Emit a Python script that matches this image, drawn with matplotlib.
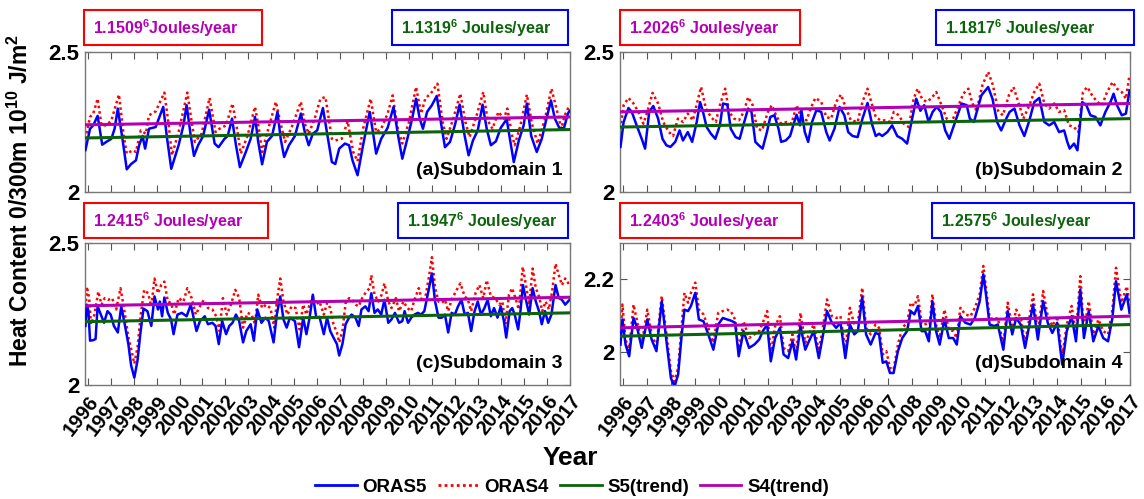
import numpy as np
import matplotlib
matplotlib.use("Agg")
import matplotlib.pyplot as plt
from matplotlib.patches import Rectangle
from matplotlib.lines import Line2D

plt.rcParams['font.family'] = ['Liberation Sans', 'DejaVu Sans']
plt.rcParams['font.weight'] = 'bold'
plt.rcParams['mathtext.fontset'] = 'custom'
plt.rcParams['mathtext.rm'] = 'Liberation Sans:bold'
plt.rcParams['mathtext.bf'] = 'Liberation Sans:bold'
plt.rcParams['mathtext.it'] = 'Liberation Sans:bold'

# ---- data (decimal year, 10^10 J/m^2) ----
# Subdomain 1
t5_a = [1995.9, 1996.10, 1996.24, 1996.43, 1996.63, 1996.81, 1997.03, 1997.17, 1997.31, 1997.53, 1997.70, 1997.89,
        1998.10, 1998.24, 1998.39, 1998.50, 1998.67, 1998.96, 1999.29, 1999.46, 1999.64, 1999.96, 2000.17, 2000.31,
        2000.49, 2000.63, 2000.81, 2001.03, 2001.29, 2001.53, 2001.70, 2001.96, 2002.10, 2002.29, 2002.46, 2002.63,
        2002.89, 2003.10, 2003.29, 2003.43, 2003.60, 2003.81, 2004.03, 2004.27, 2004.41, 2004.56, 2004.77, 2005.03,
        2005.29, 2005.46, 2005.63, 2005.81, 2006.00, 2006.25, 2006.64, 2006.79, 2006.96, 2007.21, 2007.39, 2007.54,
        2007.76, 2008.00, 2008.29, 2008.43, 2008.57, 2008.79, 2009.07, 2009.33, 2009.53, 2009.71, 2009.93, 2010.14,
        2010.31, 2010.47, 2010.61, 2010.79, 2011.00, 2011.21, 2011.39, 2011.57, 2011.79, 2012.00, 2012.21, 2012.43,
        2012.60, 2012.79, 2013.00, 2013.21, 2013.39, 2013.57, 2013.79, 2014.00, 2014.26, 2014.40, 2014.57, 2014.79,
        2015.00, 2015.14, 2015.33, 2015.57, 2015.79, 2015.96, 2016.19, 2016.36, 2016.57, 2016.76, 2016.93, 2017.0]
s5_a = [2.150, 2.226, 2.238, 2.272, 2.169, 2.179, 2.190, 2.226, 2.298, 2.180, 2.081, 2.100,
        2.113, 2.167, 2.200, 2.155, 2.226, 2.232, 2.304, 2.190, 2.083, 2.167, 2.238, 2.310,
        2.200, 2.129, 2.167, 2.200, 2.294, 2.173, 2.160, 2.190, 2.200, 2.262, 2.167, 2.089,
        2.143, 2.190, 2.268, 2.179, 2.099, 2.179, 2.200, 2.286, 2.190, 2.125, 2.167, 2.200,
        2.280, 2.214, 2.167, 2.208, 2.220, 2.300, 2.107, 2.100, 2.155, 2.173, 2.167, 2.113,
        2.060, 2.167, 2.286, 2.214, 2.137, 2.190, 2.229, 2.304, 2.200, 2.119, 2.190, 2.262,
        2.333, 2.262, 2.226, 2.286, 2.310, 2.343, 2.250, 2.160, 2.179, 2.238, 2.312, 2.200,
        2.131, 2.184, 2.220, 2.312, 2.226, 2.167, 2.181, 2.229, 2.260, 2.190, 2.107, 2.184,
        2.238, 2.316, 2.200, 2.143, 2.190, 2.250, 2.327, 2.262, 2.226, 2.229, 2.280, 2.290]
t4_a = [1995.9, 1996.10, 1996.24, 1996.43, 1996.60, 1996.81, 1997.03, 1997.36, 1997.57, 1997.70, 1997.96, 1998.10,
        1998.31, 1998.53, 1998.67, 1998.96, 1999.34, 1999.53, 1999.67, 1999.96, 2000.34, 2000.53, 2000.67, 2000.96,
        2001.31, 2001.57, 2001.74, 2002.03, 2002.31, 2002.53, 2002.67, 2002.96, 2003.29, 2003.46, 2003.60, 2003.89,
        2004.20, 2004.39, 2004.60, 2004.89, 2005.29, 2005.46, 2005.63, 2005.89, 2006.14, 2006.36, 2006.64, 2006.79,
        2007.07, 2007.33, 2007.57, 2007.76, 2008.00, 2008.33, 2008.57, 2008.79, 2009.07, 2009.29, 2009.50, 2009.71,
        2010.00, 2010.31, 2010.53, 2010.71, 2011.00, 2011.24, 2011.47, 2011.64, 2011.93, 2012.24, 2012.46, 2012.64,
        2012.93, 2013.24, 2013.43, 2013.64, 2013.90, 2014.14, 2014.29, 2014.50, 2014.61, 2014.86, 2015.14, 2015.36,
        2015.61, 2015.93, 2016.21, 2016.43, 2016.64, 2016.79, 2017.0]
s4_a = [2.190, 2.268, 2.280, 2.333, 2.238, 2.238, 2.256, 2.348, 2.200, 2.137, 2.149, 2.143,
        2.220, 2.208, 2.274, 2.288, 2.355, 2.238, 2.131, 2.214, 2.355, 2.250, 2.179, 2.208,
        2.336, 2.214, 2.226, 2.238, 2.316, 2.214, 2.137, 2.200, 2.304, 2.226, 2.143, 2.232,
        2.322, 2.250, 2.179, 2.232, 2.322, 2.244, 2.208, 2.262, 2.333, 2.339, 2.190, 2.184,
        2.190, 2.252, 2.143, 2.110, 2.226, 2.333, 2.214, 2.226, 2.280, 2.345, 2.232, 2.173,
        2.250, 2.375, 2.280, 2.333, 2.357, 2.387, 2.250, 2.190, 2.262, 2.351, 2.250, 2.196,
        2.268, 2.357, 2.256, 2.226, 2.286, 2.262, 2.298, 2.200, 2.167, 2.238, 2.348, 2.244,
        2.173, 2.262, 2.369, 2.298, 2.226, 2.274, 2.310]
tr5_a = [2.193, 2.223]
tr4_a = [2.240, 2.268]

# Subdomain 2
t5_b = [1995.9, 1996.03, 1996.23, 1996.37, 1996.57, 1996.78, 1996.92, 1997.09, 1997.26, 1997.46, 1997.64, 1997.80,
        1997.97, 1998.17, 1998.35, 1998.49, 1998.69, 1998.87, 1999.06, 1999.20, 1999.31, 1999.47, 1999.65, 1999.83,
        2000.02, 2000.15, 2000.33, 2000.47, 2000.67, 2000.84, 2001.01, 2001.19, 2001.33, 2001.49, 2001.63, 2001.79,
        2001.97, 2002.11, 2002.28, 2002.45, 2002.56, 2002.75, 2002.93, 2003.06, 2003.20, 2003.34, 2003.40, 2003.54,
        2003.68, 2003.84, 2004.02, 2004.22, 2004.43, 2004.57, 2004.77, 2004.98, 2005.18, 2005.34, 2005.52, 2005.73,
        2005.93, 2006.14, 2006.34, 2006.48, 2006.62, 2006.75, 2006.96, 2007.16, 2007.37, 2007.58, 2007.78, 2007.99,
        2008.16, 2008.33, 2008.49, 2008.67, 2008.84, 2009.01, 2009.18, 2009.36, 2009.53, 2009.77, 2010.04, 2010.25,
        2010.38, 2010.55, 2010.86, 2011.14, 2011.32, 2011.51, 2011.68, 2011.89, 2012.03, 2012.23, 2012.44, 2012.64,
        2012.85, 2013.05, 2013.26, 2013.47, 2013.67, 2013.88, 2014.08, 2014.29, 2014.42, 2014.52, 2014.70, 2014.84,
        2015.04, 2015.21, 2015.38, 2015.59, 2015.79, 2016.00, 2016.21, 2016.34, 2016.48, 2016.68, 2016.85, 2017.0]
s5_b = [2.161, 2.250, 2.300, 2.286, 2.238, 2.190, 2.155, 2.286, 2.307, 2.262, 2.190, 2.167,
        2.161, 2.179, 2.220, 2.184, 2.214, 2.179, 2.250, 2.321, 2.290, 2.232, 2.208, 2.190,
        2.238, 2.316, 2.312, 2.226, 2.196, 2.190, 2.244, 2.298, 2.286, 2.179, 2.167, 2.155,
        2.214, 2.268, 2.274, 2.226, 2.179, 2.184, 2.200, 2.238, 2.276, 2.238, 2.292, 2.214,
        2.179, 2.250, 2.292, 2.286, 2.214, 2.184, 2.226, 2.304, 2.274, 2.214, 2.200, 2.196,
        2.262, 2.318, 2.238, 2.200, 2.208, 2.200, 2.214, 2.238, 2.200, 2.190, 2.173, 2.262,
        2.333, 2.290, 2.310, 2.250, 2.286, 2.304, 2.286, 2.220, 2.190, 2.250, 2.316, 2.310,
        2.262, 2.250, 2.345, 2.375, 2.333, 2.250, 2.220, 2.262, 2.286, 2.298, 2.238, 2.200,
        2.256, 2.321, 2.336, 2.250, 2.238, 2.250, 2.214, 2.220, 2.179, 2.155, 2.173, 2.149,
        2.321, 2.310, 2.274, 2.268, 2.238, 2.286, 2.321, 2.351, 2.310, 2.274, 2.280, 2.363]
t4_b = [1995.9, 1996.03, 1996.23, 1996.44, 1996.64, 1996.85, 1997.01, 1997.23, 1997.46, 1997.67, 1997.91, 1998.08,
        1998.28, 1998.49, 1998.69, 1998.90, 1999.10, 1999.24, 1999.44, 1999.65, 1999.85, 2000.02, 2000.24, 2000.40,
        2000.61, 2000.81, 2001.01, 2001.19, 2001.38, 2001.56, 2001.77, 2002.01, 2002.17, 2002.38, 2002.56, 2002.79,
        2002.99, 2003.20, 2003.38, 2003.61, 2003.81, 2003.98, 2004.22, 2004.43, 2004.63, 2004.84, 2005.04, 2005.25,
        2005.45, 2005.73, 2005.93, 2006.14, 2006.30, 2006.48, 2006.68, 2006.89, 2007.10, 2007.23, 2007.44, 2007.64,
        2007.85, 2008.05, 2008.22, 2008.40, 2008.58, 2008.77, 2008.99, 2009.18, 2009.42, 2009.63, 2009.86, 2010.11,
        2010.32, 2010.49, 2010.66, 2010.90, 2011.14, 2011.34, 2011.55, 2011.75, 2012.00, 2012.19, 2012.41, 2012.60,
        2012.85, 2013.05, 2013.26, 2013.47, 2013.67, 2013.88, 2014.08, 2014.29, 2014.49, 2014.70, 2014.88, 2015.07,
        2015.25, 2015.45, 2015.66, 2015.86, 2016.07, 2016.30, 2016.48, 2016.68, 2016.85, 2017.0]
s4_b = [2.226, 2.310, 2.336, 2.316, 2.286, 2.244, 2.286, 2.354, 2.316, 2.250, 2.214, 2.200,
        2.262, 2.250, 2.280, 2.256, 2.327, 2.375, 2.298, 2.268, 2.250, 2.310, 2.369, 2.286,
        2.262, 2.256, 2.286, 2.339, 2.310, 2.226, 2.220, 2.286, 2.310, 2.268, 2.244, 2.250,
        2.244, 2.310, 2.268, 2.256, 2.304, 2.336, 2.322, 2.268, 2.262, 2.322, 2.348, 2.298,
        2.256, 2.250, 2.322, 2.369, 2.320, 2.268, 2.256, 2.256, 2.250, 2.286, 2.274, 2.244,
        2.232, 2.333, 2.369, 2.333, 2.322, 2.333, 2.357, 2.316, 2.262, 2.250, 2.298, 2.351,
        2.369, 2.316, 2.290, 2.381, 2.429, 2.381, 2.290, 2.274, 2.345, 2.375, 2.316, 2.262,
        2.310, 2.357, 2.387, 2.316, 2.298, 2.316, 2.286, 2.292, 2.238, 2.232, 2.214, 2.357,
        2.375, 2.345, 2.322, 2.310, 2.357, 2.393, 2.369, 2.357, 2.333, 2.417]
tr5_b = [2.232, 2.262]
tr4_b = [2.286, 2.316]

# Subdomain 3
t5_c = [1995.9, 1995.96, 1996.03, 1996.10, 1996.24, 1996.34, 1996.43, 1996.57, 1996.71, 1996.86, 1997.00, 1997.14,
        1997.31, 1997.46, 1997.60, 1997.77, 1997.89, 1998.03, 1998.17, 1998.29, 1998.43, 1998.60, 1998.77, 1998.91,
        1999.06, 1999.14, 1999.24, 1999.34, 1999.49, 1999.63, 1999.74, 1999.91, 2000.10, 2000.31, 2000.49, 2000.60,
        2000.74, 2000.89, 2001.10, 2001.24, 2001.43, 2001.57, 2001.71, 2001.86, 2002.03, 2002.17, 2002.31, 2002.46,
        2002.60, 2002.77, 2002.91, 2003.10, 2003.24, 2003.39, 2003.57, 2003.74, 2003.89, 2004.10, 2004.24, 2004.39,
        2004.53, 2004.67, 2004.81, 2005.03, 2005.21, 2005.39, 2005.53, 2005.67, 2005.81, 2005.96, 2006.10, 2006.29,
        2006.43, 2006.57, 2006.71, 2006.86, 2006.96, 2007.10, 2007.24, 2007.39, 2007.50, 2007.67, 2007.81, 2007.93,
        2008.10, 2008.24, 2008.36, 2008.50, 2008.64, 2008.79, 2008.93, 2009.10, 2009.24, 2009.39, 2009.57, 2009.71,
        2009.81, 2009.96, 2010.10, 2010.24, 2010.39, 2010.53, 2010.67, 2010.86, 2011.00, 2011.14, 2011.29, 2011.43,
        2011.57, 2011.71, 2011.86, 2012.00, 2012.14, 2012.29, 2012.43, 2012.57, 2012.71, 2012.86, 2013.00, 2013.14,
        2013.29, 2013.43, 2013.57, 2013.71, 2013.86, 2014.00, 2014.14, 2014.24, 2014.39, 2014.50, 2014.61, 2014.76,
        2014.86, 2014.97, 2015.10, 2015.24, 2015.39, 2015.53, 2015.67, 2015.79, 2015.93, 2016.07, 2016.21, 2016.39,
        2016.53, 2016.67, 2016.81, 2017.0]
s5_c = [2.208, 2.283, 2.260, 2.156, 2.158, 2.162, 2.277, 2.248, 2.219, 2.260, 2.248, 2.208,
        2.185, 2.277, 2.219, 2.144, 2.069, 2.026, 2.087, 2.179, 2.269, 2.260, 2.208, 2.312,
        2.266, 2.294, 2.242, 2.308, 2.254, 2.231, 2.179, 2.248, 2.254, 2.242, 2.283, 2.242,
        2.190, 2.225, 2.242, 2.214, 2.219, 2.208, 2.144, 2.225, 2.179, 2.208, 2.219, 2.248,
        2.225, 2.150, 2.190, 2.214, 2.156, 2.266, 2.219, 2.237, 2.225, 2.150, 2.248, 2.312,
        2.231, 2.202, 2.237, 2.225, 2.133, 2.237, 2.179, 2.237, 2.318, 2.237, 2.240, 2.179,
        2.237, 2.190, 2.167, 2.144, 2.104, 2.144, 2.214, 2.237, 2.248, 2.237, 2.208, 2.266,
        2.277, 2.260, 2.323, 2.254, 2.266, 2.248, 2.300, 2.219, 2.231, 2.254, 2.219, 2.225,
        2.260, 2.219, 2.237, 2.248, 2.254, 2.248, 2.260, 2.335, 2.393, 2.294, 2.237, 2.237,
        2.248, 2.185, 2.254, 2.248, 2.277, 2.300, 2.248, 2.254, 2.190, 2.260, 2.294, 2.248,
        2.271, 2.300, 2.242, 2.271, 2.237, 2.277, 2.225, 2.167, 2.260, 2.271, 2.248, 2.196,
        2.260, 2.352, 2.300, 2.248, 2.341, 2.294, 2.260, 2.214, 2.260, 2.219, 2.248, 2.352,
        2.306, 2.300, 2.283, 2.300]
t4_c = [1995.9, 1995.96, 1996.06, 1996.14, 1996.29, 1996.46, 1996.60, 1996.74, 1996.89, 1997.06, 1997.24, 1997.43,
        1997.60, 1997.77, 1997.91, 1998.03, 1998.17, 1998.31, 1998.46, 1998.63, 1998.77, 1998.91, 1999.06, 1999.20,
        1999.34, 1999.49, 1999.63, 1999.77, 1999.96, 2000.17, 2000.34, 2000.53, 2000.71, 2000.89, 2001.06, 2001.24,
        2001.43, 2001.60, 2001.74, 2001.89, 2002.06, 2002.24, 2002.43, 2002.60, 2002.77, 2002.96, 2003.14, 2003.29,
        2003.43, 2003.60, 2003.77, 2003.96, 2004.13, 2004.24, 2004.39, 2004.53, 2004.70, 2004.89, 2005.06, 2005.23,
        2005.39, 2005.53, 2005.67, 2005.81, 2005.96, 2006.10, 2006.29, 2006.43, 2006.57, 2006.71, 2006.86, 2006.96,
        2007.10, 2007.24, 2007.39, 2007.53, 2007.67, 2007.81, 2007.96, 2008.14, 2008.29, 2008.36, 2008.50, 2008.67,
        2008.81, 2008.93, 2009.10, 2009.24, 2009.43, 2009.57, 2009.76, 2009.93, 2010.10, 2010.24, 2010.43, 2010.57,
        2010.71, 2010.86, 2011.00, 2011.14, 2011.29, 2011.43, 2011.57, 2011.71, 2011.86, 2012.04, 2012.24, 2012.43,
        2012.57, 2012.71, 2012.90, 2013.07, 2013.24, 2013.39, 2013.57, 2013.76, 2013.93, 2014.07, 2014.21, 2014.36,
        2014.50, 2014.64, 2014.79, 2014.96, 2015.10, 2015.24, 2015.39, 2015.53, 2015.67, 2015.81, 2015.96, 2016.10,
        2016.24, 2016.39, 2016.53, 2016.67, 2016.81, 2017.0]
s4_c = [2.237, 2.346, 2.306, 2.214, 2.248, 2.329, 2.283, 2.306, 2.300, 2.306, 2.266, 2.341,
        2.260, 2.167, 2.121, 2.075, 2.133, 2.248, 2.335, 2.323, 2.277, 2.375, 2.323, 2.352,
        2.364, 2.294, 2.289, 2.248, 2.306, 2.294, 2.341, 2.306, 2.248, 2.277, 2.300, 2.271,
        2.266, 2.242, 2.190, 2.306, 2.248, 2.283, 2.335, 2.306, 2.202, 2.254, 2.248, 2.214,
        2.318, 2.271, 2.283, 2.271, 2.202, 2.294, 2.375, 2.294, 2.248, 2.277, 2.271, 2.196,
        2.283, 2.248, 2.283, 2.312, 2.283, 2.294, 2.248, 2.289, 2.271, 2.214, 2.185, 2.150,
        2.190, 2.289, 2.306, 2.300, 2.283, 2.277, 2.306, 2.329, 2.341, 2.387, 2.318, 2.294,
        2.318, 2.358, 2.294, 2.271, 2.306, 2.260, 2.294, 2.271, 2.260, 2.300, 2.341, 2.294,
        2.306, 2.375, 2.450, 2.341, 2.294, 2.289, 2.300, 2.260, 2.300, 2.329, 2.358, 2.312,
        2.300, 2.260, 2.323, 2.352, 2.306, 2.369, 2.312, 2.306, 2.283, 2.294, 2.214, 2.318,
        2.341, 2.306, 2.266, 2.416, 2.352, 2.283, 2.410, 2.341, 2.312, 2.260, 2.294, 2.266,
        2.329, 2.427, 2.387, 2.352, 2.375, 2.352]
tr5_c = [2.223, 2.254]
tr4_c = [2.279, 2.309]

# Subdomain 4 (both reanalyses read at the same dates)
t_d = [1995.9, 1995.98, 1996.11, 1996.26, 1996.44, 1996.59, 1996.78, 1997.01, 1997.19, 1997.39, 1997.61, 1997.79,
       1997.99, 1998.14, 1998.29, 1998.44, 1998.55, 1998.70, 1998.82, 1999.00, 1999.15, 1999.34, 1999.54, 1999.75,
       1999.95, 2000.14, 2000.32, 2000.47, 2000.65, 2000.80, 2001.00, 2001.23, 2001.45, 2001.65, 2001.80, 2001.98,
       2002.13, 2002.31, 2002.51, 2002.66, 2002.85, 2003.03, 2003.18, 2003.36, 2003.56, 2003.71, 2003.91, 2004.12,
       2004.31, 2004.46, 2004.66, 2004.84, 2005.02, 2005.22, 2005.41, 2005.59, 2005.74, 2005.92, 2006.08, 2006.27,
       2006.47, 2006.62, 2006.77, 2006.92, 2007.07, 2007.22, 2007.40, 2007.58, 2007.78, 2007.93, 2008.08, 2008.23,
       2008.38, 2008.53, 2008.68, 2008.83, 2008.98, 2009.13, 2009.33, 2009.51, 2009.69, 2009.84, 2009.99, 2010.19,
       2010.41, 2010.59, 2010.79, 2010.94, 2011.05, 2011.20, 2011.39, 2011.54, 2011.77, 2011.95, 2012.14, 2012.30,
       2012.49, 2012.67, 2012.85, 2013.00, 2013.20, 2013.42, 2013.61, 2013.80, 2014.00, 2014.21, 2014.40, 2014.60,
       2014.78, 2014.96, 2015.11, 2015.31, 2015.50, 2015.71, 2015.91, 2016.11, 2016.29, 2016.44, 2016.66, 2016.89,
       2017.0]
s5_d = [2.021, 2.090, 2.021, 1.989, 2.094, 2.067, 2.012, 2.090, 2.035, 2.003, 2.140, 2.039,
        1.929, 1.906, 1.939, 2.049, 2.117, 2.113, 2.127, 2.163, 2.090, 2.085, 2.049, 2.007,
        2.076, 2.094, 2.090, 2.087, 2.081, 1.989, 2.058, 2.012, 2.021, 2.035, 2.058, 2.076,
        1.975, 2.039, 2.067, 1.994, 1.984, 2.030, 1.980, 2.072, 2.007, 2.030, 2.058, 1.984,
        2.053, 2.113, 2.081, 2.067, 2.081, 1.984, 2.076, 2.049, 2.058, 2.151, 2.049, 2.021,
        2.053, 2.049, 1.971, 1.975, 1.943, 1.943, 2.003, 2.039, 2.058, 2.113, 2.104, 2.127,
        2.058, 2.058, 2.030, 2.140, 2.058, 2.021, 2.090, 2.039, 2.039, 2.021, 2.099, 2.081,
        2.076, 2.094, 2.140, 2.214, 2.159, 2.076, 2.072, 2.076, 2.007, 2.113, 2.049, 2.094,
        2.076, 2.012, 2.076, 2.131, 2.035, 2.140, 2.081, 2.053, 2.081, 1.966, 2.058, 2.099,
        2.030, 2.172, 2.039, 2.113, 2.030, 2.072, 2.039, 2.030, 2.094, 2.195, 2.117, 2.159,
        2.108]
s4_d = [2.049, 2.131, 2.035, 2.003, 2.131, 2.085, 2.021, 2.117, 2.049, 2.016, 2.154, 2.058,
        1.948, 1.920, 1.957, 2.076, 2.163, 2.136, 2.163, 2.191, 2.117, 2.104, 2.067, 2.026,
        2.108, 2.113, 2.117, 2.113, 2.090, 2.003, 2.085, 2.039, 2.049, 2.058, 2.081, 2.113,
        1.994, 2.072, 2.099, 2.012, 2.003, 2.049, 1.994, 2.108, 2.026, 2.049, 2.076, 2.003,
        2.076, 2.145, 2.099, 2.094, 2.099, 2.003, 2.122, 2.076, 2.081, 2.177, 2.067, 2.049,
        2.076, 2.067, 1.994, 2.003, 1.957, 1.952, 2.021, 2.067, 2.081, 2.136, 2.127, 2.154,
        2.081, 2.081, 2.049, 2.159, 2.076, 2.039, 2.117, 2.062, 2.058, 2.039, 2.122, 2.104,
        2.099, 2.122, 2.159, 2.237, 2.177, 2.094, 2.090, 2.094, 2.021, 2.136, 2.067, 2.117,
        2.094, 2.026, 2.094, 2.159, 2.053, 2.168, 2.099, 2.072, 2.099, 1.989, 2.076, 2.127,
        2.049, 2.209, 2.058, 2.140, 2.049, 2.090, 2.058, 2.049, 2.117, 2.232, 2.136, 2.181,
        2.131]
tr5_d = [2.044, 2.076]
tr4_d = [2.067, 2.099]

trend_t = [1995.9, 2017.0]
years = list(range(1996, 2018))
labels = ['(a)Subdomain 1', '(b)Subdomain 2', '(c)Subdomain 3', '(d)Subdomain 4']
rate4 = ['1.1509$^{6}$Joules/year', '1.2026$^{6}$ Joules/year', '1.2415$^{6}$ Joules/year', '1.2403$^{6}$ Joules/year']
rate5 = ['1.1319$^{6}$ Joules/year', '1.1817$^{6}$ Joules/year', '1.1947$^{6}$ Joules/year', '1.2575$^{6}$ Joules/year']

c5 = '#0000ff'
c4 = '#ff0000'
cg = '#0b640b'
cm = '#b400b4'

W, H = 1144, 499
fig = plt.figure(figsize=(W / 100, H / 100), dpi=100)

def fx(px):
    return px / W

def fy(py):
    return 1 - py / H

# axes rectangles in pixels: left, top, right, bottom
rects = [(85, 52, 570, 192), (620, 52, 1130, 192), (85, 243, 570, 385), (620, 243, 1130, 385)]
red_boxes = [(84, 10, 262, 45), (620, 10, 800, 45), (84, 203, 268, 238), (620, 203, 802, 238)]
blue_boxes = [(392, 10, 568, 45), (936, 10, 1134, 45), (398, 203, 568, 238), (932, 203, 1134, 238)]

series = [
    (t5_a, s5_a, t4_a, s4_a, tr5_a, tr4_a, (2, 2.5), [2, 2.5], ['2', '2.5']),
    (t5_b, s5_b, t4_b, s4_b, tr5_b, tr4_b, (2, 2.5), [2, 2.5], ['2', '2.5']),
    (t5_c, s5_c, t4_c, s4_c, tr5_c, tr4_c, (2, 2.5), [2, 2.5], ['2', '2.5']),
    (t_d, s5_d, t_d, s4_d, tr5_d, tr4_d, (1.91, 2.3), [2, 2.2], ['2', '2.2']),
]

for i, (t5, s5, t4, s4, tr5, tr4, yl, yt, ytl) in enumerate(series):
    l, t, r, b = rects[i]
    ax = fig.add_axes([fx(l), fy(b), fx(r - l), fy(t) - fy(b)])
    ax.plot(t5, s5, color=c5, lw=1.8, zorder=3)
    ax.plot(t4, s4, color=c4, lw=1.8, ls=(0, (1, 1.2)), zorder=2)
    ax.plot(trend_t, tr5, color=cg, lw=2.2, zorder=4)
    ax.plot(trend_t, tr4, color=cm, lw=2.2, zorder=4)
    ax.set_xlim(1995.88, 2017.02)
    ax.set_ylim(*yl)
    ax.set_xticks(years)
    if i >= 2:
        ax.set_xticklabels([str(y) for y in years], rotation=52, ha='right', va='top',
                           rotation_mode='anchor', fontsize=14.5, fontweight='bold')
    else:
        ax.set_xticklabels([])
    ax.set_yticks(yt)
    ax.set_yticklabels(ytl, fontsize=16, fontweight='bold')
    ax.tick_params(direction='in', length=5, width=0.8, color='#555555', top=True, right=True, pad=4)
    ax.tick_params(axis='x', pad=5)
    for sp in ax.spines.values():
        sp.set_color('#777777')
        sp.set_linewidth(1.0)
    ax.text(0.985, 0.09, labels[i], transform=ax.transAxes, ha='right', va='bottom',
            fontsize=14, fontweight='bold')

    for box, col, txt, tcol in [(red_boxes[i], 'red', rate4[i], cm), (blue_boxes[i], 'blue', rate5[i], cg)]:
        bl, bt, br, bb = box
        fig.patches.append(Rectangle((fx(bl), fy(bb)), fx(br - bl), fy(bt) - fy(bb),
                                     transform=fig.transFigure, fill=False, edgecolor=col, lw=1.5))
        fig.text(fx(bl + 9), fy((bt + bb) / 2 + 1), txt, ha='left', va='center',
                 fontsize=11.5, fontweight='bold', color=tcol)

fig.text(fx(20), fy(200), 'Heat Content 0/300m 10$^{10}$ J/m$^{2}$', rotation=90,
         ha='center', va='center', fontsize=16.5, fontweight='bold')
fig.text(fx(570), fy(458), 'Year', ha='center', va='center', fontsize=19, fontweight='bold')

handles = [Line2D([], [], color=c5, lw=2),
           Line2D([], [], color=c4, lw=2, ls=(0, (1, 1.2))),
           Line2D([], [], color=cg, lw=2),
           Line2D([], [], color=cm, lw=2)]
fig.legend(handles, ['ORAS5', 'ORAS4', 'S5(trend)', 'S4(trend)'], loc='center',
           bbox_to_anchor=(fx(572), fy(487)), ncol=4, frameon=False,
           prop={'weight': 'bold', 'size': 13.5}, handlelength=2.2, handletextpad=0.3,
           columnspacing=0.6, borderpad=0.1)

fig.savefig('out.png', dpi=100)
